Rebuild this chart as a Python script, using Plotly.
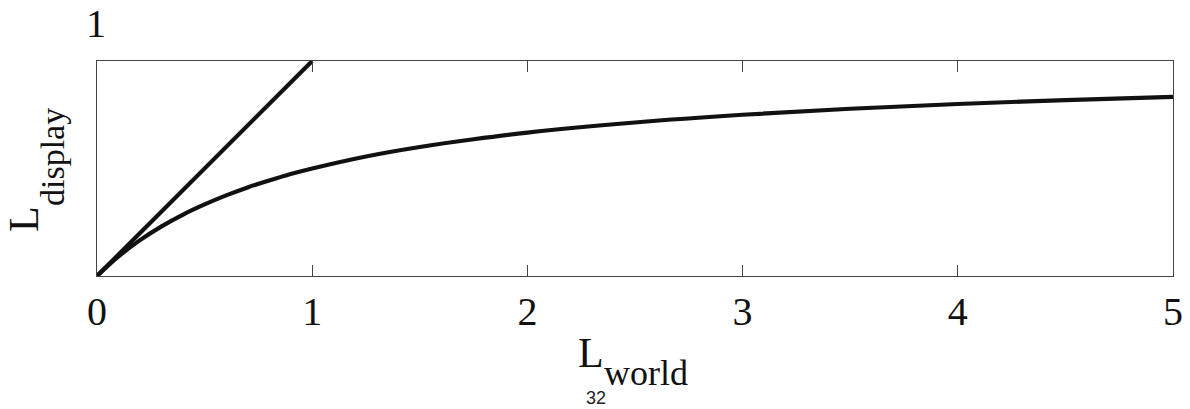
"""Tone-mapping curve: L_display vs L_world, with the identity line for comparison."""
import plotly.graph_objects as go

# identity line
linear_x = [0, 1]
linear_y = [0, 1]

# compressive curve, values
curve_x = [0, 0.1, 0.2, 0.3, 0.4, 0.5, 0.6, 0.7, 0.8, 0.9, 1.0,
           1.25, 1.5, 1.75, 2.0, 2.5, 3.0, 3.5, 4.0, 4.5, 5.0]
curve_y = [0, 0.091, 0.167, 0.231, 0.286, 0.333, 0.375, 0.412, 0.444, 0.474, 0.50,
           0.556, 0.60, 0.636, 0.667, 0.714, 0.75, 0.778, 0.80, 0.818, 0.833]

x_ticks = [0, 1, 2, 3, 4, 5]

SERIF = "Liberation Serif, Times New Roman, serif"
SANS = "Liberation Sans, Arial, sans-serif"
INK = "#111111"

W, H = 1190, 409
ML, MR, MT, MB = 97, 17, 61, 133
PW, PH = W - ML - MR, H - MT - MB


def px(x, y):
    """window pixel -> paper coords"""
    return (x - ML) / PW, 1 - (y - MT) / PH


fig = go.Figure()
fig.add_trace(go.Scatter(x=linear_x, y=linear_y, mode="lines",
                         line=dict(color=INK, width=4.2), showlegend=False))
fig.add_trace(go.Scatter(x=curve_x, y=curve_y, mode="lines",
                         line=dict(color=INK, width=4.2, shape="spline"), showlegend=False))

fig.update_xaxes(
    range=[0, 5], tickvals=x_ticks, ticktext=[str(t) for t in x_ticks],
    ticks="inside", ticklen=11, tickcolor="#444", tickwidth=1,
    showline=True, linecolor="#444", linewidth=1, mirror="ticks",
    showgrid=False, zeroline=False,
    tickfont=dict(family=SERIF, size=40, color=INK),
)
fig.update_yaxes(
    range=[0, 1], showticklabels=False, ticks="",
    showline=True, linecolor="#444", linewidth=1, mirror=True,
    showgrid=False, zeroline=False,
)


def label(text, x, y, size, family=SERIF, angle=0, color=INK):
    ax, ay = px(x, y)
    fig.add_annotation(x=ax, y=ay, xref="paper", yref="paper", text=text,
                       showarrow=False, textangle=angle, xanchor="center",
                       yanchor="middle", font=dict(family=family, size=size, color=color))


label("1", 96, 24, 40)
label("L", 24, 219, 42, angle=-90)
label("display", 52, 157, 34, angle=-90)
label("L", 591, 353, 42)
label("world", 646, 373, 36)
label("32", 596, 398, 18, family=SANS, color="#222")

fig.update_layout(
    width=W, height=H,
    margin=dict(l=ML, r=MR, t=MT, b=MB, autoexpand=False),
    plot_bgcolor="white", paper_bgcolor="white",
)
# drop the page's default 8px body margin so the figure sits at the window corner
fig.write_html("out.html", config={"displayModeBar": False},
               post_script="document.body.style.margin='0';")
